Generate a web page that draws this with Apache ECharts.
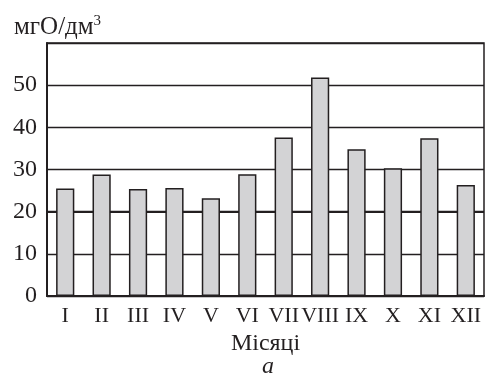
<!DOCTYPE html>
<html>
<head>
<meta charset="utf-8">
<script src="https://cdn.jsdelivr.net/npm/echarts@6/dist/echarts.min.js"></script>
<style>
  html, body { margin: 0; padding: 0; background: #fff; }
  #chart { width: 487px; height: 377px; }
</style>
</head>
<body>
<div id="chart"></div>
<script>
// Monthly values, mgO/dm3
const months = ['I', 'II', 'III', 'IV', 'V', 'VI', 'VII', 'VIII', 'IX', 'X', 'XI', 'XII'];
const values = [25.5, 28.8, 25.4, 25.6, 23.2, 28.9, 37.6, 51.8, 34.8, 30.3, 37.4, 26.3];
const yTicks = [0, 10, 20, 30, 40, 50];

const serif = '"Liberation Serif", "DejaVu Serif", serif';
const ink = '#231f20';

const chart = echarts.init(document.getElementById('chart'), null, { renderer: 'canvas' });
chart.setOption({
  animation: false,
  backgroundColor: '#fff',
  title: [
    {
      text: '{a|мгО/дм}{s|3}',
      left: 9, top: 9,
      textStyle: {
        fontWeight: 'normal',
        rich: {
          a: { fontFamily: serif, fontSize: 25, fontWeight: 'normal', color: ink },
          s: { fontFamily: serif, fontSize: 15, fontWeight: 'normal', color: ink, verticalAlign: 'top', padding: [0, 0, 11, 0] }
        }
      }
    },
    {
      text: 'а',
      left: 257, top: 350,
      textStyle: { fontFamily: serif, fontSize: 24, fontStyle: 'italic', fontWeight: 'normal', color: ink }
    }
  ],
  grid: {
    left: 47, right: 3, top: 43, bottom: 81,
    outerBoundsMode: 'none',
    show: true, borderColor: ink, borderWidth: 1.5
  },
  xAxis: {
    type: 'category',
    data: months,
    name: 'Місяці',
    nameLocation: 'middle',
    nameGap: 31,
    nameTextStyle: { fontFamily: serif, fontSize: 24, color: ink },
    axisLine: { lineStyle: { color: ink, width: 2 } },
    axisTick: { show: false },
    axisLabel: { interval: 0, fontFamily: serif, fontSize: 22, color: ink, margin: 9 }
  },
  yAxis: {
    type: 'value',
    min: 0, max: 60, interval: 10,
    axisLine: { show: true, lineStyle: { color: ink, width: 2 } },
    axisTick: { show: false },
    axisLabel: {
      fontFamily: serif, fontSize: 24, color: ink, margin: 10,
      formatter: v => (yTicks.includes(v) ? String(v) : '')
    },
    splitLine: { show: true, lineStyle: { color: ink, width: 1.3 } }
  },
  series: [{
    type: 'bar',
    data: values,
    barWidth: '50%',
    itemStyle: { color: '#d3d3d5', borderColor: ink, borderWidth: 1.5 },
    markLine: {
      silent: true, symbol: 'none', label: { show: false },
      lineStyle: { color: ink, width: 2.2, type: 'solid' },
      data: [{ yAxis: 20 }],
      z: 1
    }
  }]
});
</script>
</body>
</html>
